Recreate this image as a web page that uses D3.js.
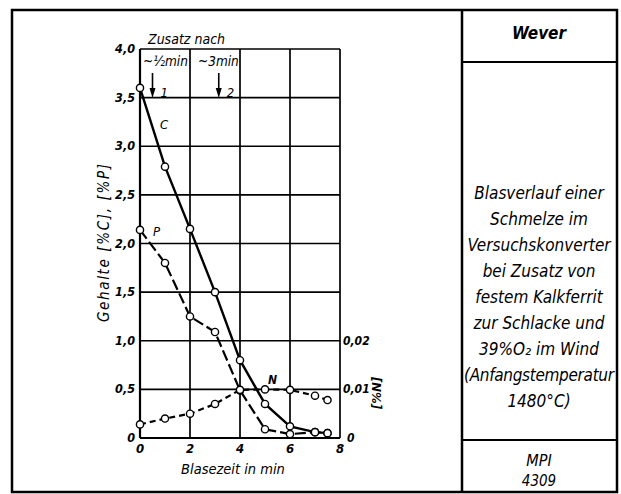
<!DOCTYPE html>
<html>
<head>
<meta charset="utf-8">
<script src="https://cdn.jsdelivr.net/npm/d3@7"></script>
<style>
  body { margin: 0; background: #fff; }
  svg text { font-family: "DejaVu Sans Condensed", "Liberation Sans Narrow", sans-serif; font-style: italic; fill: #000; }
</style>
</head>
<body>
<script>
// blowing time in minutes
var timeC = [0, 1, 2, 3, 4, 5, 6, 7, 7.5];
var valC  = [3.6, 2.79, 2.15, 1.5, 0.8, 0.35, 0.12, 0.06, 0.05];
var timeP = [0, 1, 2, 3, 4, 5, 6, 7, 7.5];
var valP  = [2.14, 1.8, 1.25, 1.09, 0.49, 0.09, 0.04, 0.06, 0.05];
var timeN = [0, 1, 2, 3, 4, 5, 6, 7, 7.5];
var valN  = [0.0028, 0.004, 0.005, 0.007, 0.0099, 0.01, 0.0099, 0.0087, 0.0078];

var xTicks = [0, 2, 4, 6, 8];
var yTicks = [0, 0.5, 1.0, 1.5, 2.0, 2.5, 3.0, 3.5, 4.0];
var nTicks = [0, 0.01, 0.02];
var additions = [{t: 0.5, label: "1", text: "~½min"}, {t: 3.15, label: "2", text: "~3min"}];

var infoLines = ["Blasverlauf einer", "Schmelze im", "Versuchskonverter", "bei Zusatz von",
                 "festem Kalkferrit", "zur Schlacke und", "39%O\u2082 im Wind", "(Anfangstemperatur", "1480°C)"];

var w = 621, h = 494;
var svg = d3.select("body").append("svg").attr("width", w).attr("height", h);

// outer frame and right-hand title panel
svg.append("rect").attr("x", 12).attr("y", 10).attr("width", 605).attr("height", 482)
   .attr("fill", "none").attr("stroke", "#000").attr("stroke-width", 2.5);
svg.append("line").attr("x1", 462).attr("x2", 462).attr("y1", 10).attr("y2", 492)
   .attr("stroke", "#000").attr("stroke-width", 2.5);
svg.append("line").attr("x1", 462).attr("x2", 617).attr("y1", 62).attr("y2", 62)
   .attr("stroke", "#000").attr("stroke-width", 2);
svg.append("line").attr("x1", 462).attr("x2", 617).attr("y1", 440).attr("y2", 440)
   .attr("stroke", "#000").attr("stroke-width", 2);

svg.append("text").attr("x", 539).attr("y", 39).attr("text-anchor", "middle")
   .attr("font-size", 17).attr("font-weight", "bold").text("Wever");

svg.selectAll(".info").data(infoLines).enter().append("text")
   .attr("class", "info")
   .attr("x", 539).attr("y", function(d, i) { return 199 + i * 26; })
   .attr("text-anchor", "middle").attr("font-size", 17)
   .attr("textLength", function(d) { return d.length > 17 ? 150 : null; })
   .text(function(d) { return d; });

svg.append("text").attr("x", 539).attr("y", 466).attr("text-anchor", "middle")
   .attr("font-size", 16).text("MPI");
svg.append("text").attr("x", 539).attr("y", 486).attr("text-anchor", "middle")
   .attr("font-size", 15).text("4309");

// scales
var x = d3.scaleLinear().domain([0, 8]).range([140, 340]);
var y = d3.scaleLinear().domain([0, 4]).range([438, 49]);
var yN = d3.scaleLinear().domain([0, 0.02]).range([438, y(1.0)]);

var g = svg.append("g");

// grid
g.selectAll(".hgrid").data(yTicks).enter().append("line")
  .attr("x1", x(0)).attr("x2", x(8))
  .attr("y1", function(d) { return y(d); }).attr("y2", function(d) { return y(d); })
  .attr("stroke", "#000").attr("stroke-width", 1.7);
g.selectAll(".vgrid").data(xTicks).enter().append("line")
  .attr("x1", function(d) { return x(d); }).attr("x2", function(d) { return x(d); })
  .attr("y1", y(0)).attr("y2", y(4))
  .attr("stroke", "#000").attr("stroke-width", 1.7);
g.append("line").attr("x1", x(0)).attr("x2", x(0)).attr("y1", y(0)).attr("y2", y(4))
  .attr("stroke", "#000").attr("stroke-width", 2.2);
g.append("line").attr("x1", x(0)).attr("x2", x(8)).attr("y1", y(0)).attr("y2", y(0))
  .attr("stroke", "#000").attr("stroke-width", 2.2);

// left axis labels
var fmt = function(d) { return d === 0 ? "0" : d3.format(".1f")(d).replace(".", ","); };
g.selectAll(".ylab").data(yTicks).enter().append("text")
  .attr("x", x(0) - 5).attr("y", function(d) { return y(d) + 4; })
  .attr("text-anchor", "end").attr("font-size", 12.5).attr("font-weight", "bold")
  .text(fmt);

// bottom labels
g.selectAll(".xlab").data(xTicks).enter().append("text")
  .attr("x", function(d) { return x(d); }).attr("y", 453)
  .attr("text-anchor", "middle").attr("font-size", 13).attr("font-weight", "bold")
  .text(function(d) { return d; });

// right (N) labels
g.selectAll(".nlab").data(nTicks).enter().append("text")
  .attr("x", function(d) { return d === 0 ? x(8) + 7 : x(8) + 3; })
  .attr("y", function(d) { return yN(d) + 4; })
  .attr("font-size", 12).attr("font-weight", "bold")
  .text(function(d) { return d === 0 ? "0" : d3.format(".2f")(d).replace(".", ","); });

// axis titles
svg.append("text").attr("transform", "translate(109,243) rotate(-90)")
   .attr("text-anchor", "middle").attr("font-size", 15)
   .attr("textLength", 158).text("Gehalte  [%C],  [%P]");
svg.append("text").attr("x", 233).attr("y", 474).attr("text-anchor", "middle")
   .attr("font-size", 14.5).text("Blasezeit in min");
svg.append("text").attr("transform", "translate(381,393) rotate(-90)")
   .attr("text-anchor", "middle").attr("font-size", 13).attr("font-weight", "bold").text("[%N]");

// additions annotations
svg.append("text").attr("x", 148).attr("y", 44).attr("font-size", 14).text("Zusatz nach");
additions.forEach(function(a, i) {
  svg.append("text").attr("x", i === 0 ? 143 : 198).attr("y", 66)
     .attr("font-size", 13.5).text(a.text);
  var ax = x(a.t);
  svg.append("line").attr("x1", ax).attr("x2", ax).attr("y1", 73).attr("y2", 90)
     .attr("stroke", "#000").attr("stroke-width", 1.6);
  svg.append("path").attr("d", "M" + (ax - 3) + ",88 L" + (ax + 3) + ",88 L" + ax + ",98 Z")
     .attr("fill", "#000");
  svg.append("text").attr("x", ax + 8).attr("y", 97).attr("font-size", 13).text(a.label);
});

// series
var series = [
  {t: timeC, v: valC, sc: y, dash: null, w: 2.4},
  {t: timeP, v: valP, sc: y, dash: "11,4", w: 2.2},
  {t: timeN, v: valN, sc: yN, dash: "6,4", w: 2.2}
];
series.forEach(function(s) {
  var pts = s.t.map(function(t, i) { return [x(t), s.sc(s.v[i])]; });
  var line = d3.line();
  g.append("path").attr("d", line(pts)).attr("fill", "none")
    .attr("stroke", "#000").attr("stroke-width", s.w)
    .attr("stroke-dasharray", s.dash);
  g.selectAll(null).data(pts).enter().append("circle")
    .attr("cx", function(d) { return d[0]; }).attr("cy", function(d) { return d[1]; })
    .attr("r", 3.6).attr("fill", "#fff").attr("stroke", "#000").attr("stroke-width", 1.4);
});

// series labels
svg.append("text").attr("x", 160).attr("y", 129).attr("font-size", 13).text("C");
svg.append("text").attr("x", 153).attr("y", 236).attr("font-size", 13).text("P");
svg.append("text").attr("x", 268).attr("y", 384).attr("font-size", 12).attr("font-weight", "bold").text("N");
</script>
</body>
</html>
